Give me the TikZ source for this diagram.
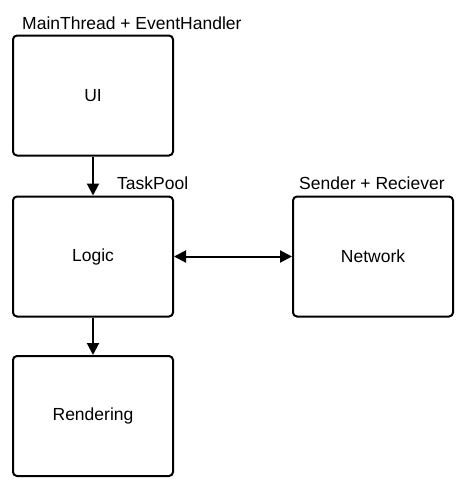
\documentclass[tikz,border=0pt]{standalone}
\usepackage{fontspec}
\setmainfont{Liberation Sans}
\usetikzlibrary{arrows.meta}
\begin{document}
\begin{tikzpicture}[x=1pt,y=-1pt,
  box/.style={draw,line width=2pt,rounded corners=4pt,minimum width=160pt,minimum height=120pt,inner sep=0pt,font=\fontsize{17.5}{20}\selectfont},
  lbl/.style={anchor=base west,inner sep=0pt,font=\fontsize{17.5}{20}\selectfont},
  conn/.style={line width=2pt,-{Triangle[length=12pt,width=12pt]}}]
\useasboundingbox (0,0) rectangle (467,493);
\node[box] (ui) at (93,95.5) {UI};
\node[box] (logic) at (93,256.5) {Logic};
\node[box] (net) at (373,256.5) {Network};
\node[box] (rend) at (93,416) {Rendering};
\node[lbl] (l1) at (22,29) {MainThread + EventHandler};
\node[lbl] (l2) at (117,189) {TaskPool};
\node[lbl] (l3) at (299,189) {Sender + Reciever};
\draw[conn] (ui) -- (logic);
\draw[conn] (logic) -- (rend);
\draw[line width=2pt,{Triangle[length=12pt,width=12pt]}-{Triangle[length=12pt,width=12pt]}] (logic) -- (net);
\end{tikzpicture}
\end{document}
